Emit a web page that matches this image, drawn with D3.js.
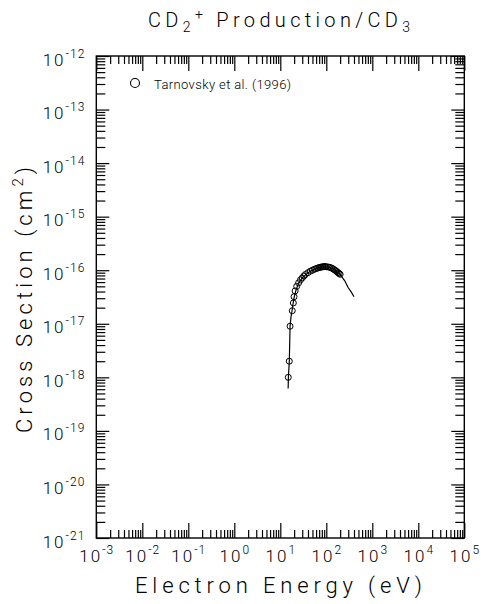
<!DOCTYPE html>
<html>
<head>
<meta charset="utf-8">
<script src="https://cdn.jsdelivr.net/npm/d3@7"></script>
<style>
  body { margin: 0; background: #fff; }
  svg text { font-family: Roboto, 'DejaVu Sans', sans-serif; font-weight: 300; fill: #000; }
</style>
</head>
<body>
<div id="plot"></div>
<script>
// Plot constants
let margin = {t: 56, r: 21.7, b: 66, l: 96.3}
let width = 486
let height = 604
let plotW = width - margin.l - margin.r
let plotH = height - margin.t - margin.b

// Tarnovsky et al. (1996) measured points: energy (eV), cross section (cm^2)
let dataEnergy = [14.9, 15.7, 16.3, 18.2, 19.2, 19.9, 21, 22.7, 25, 27.5, 30, 32.5, 35, 40, 45, 50, 55, 60,
  65, 70, 75, 80, 85, 90, 95, 100, 110, 120, 130, 140, 150, 160, 170, 180, 190, 200]
let dataSigma = [1.0e-18, 2.0e-18, 9.0e-18, 1.75e-17, 2.45e-17, 3.2e-17, 4.1e-17, 5.0e-17, 5.8e-17, 6.6e-17,
  7.2e-17, 7.8e-17, 8.3e-17, 9.0e-17, 9.6e-17, 1.0e-16, 1.04e-16, 1.07e-16, 1.10e-16, 1.12e-16, 1.14e-16,
  1.15e-16, 1.16e-16, 1.17e-16, 1.17e-16, 1.16e-16, 1.15e-16, 1.13e-16, 1.10e-16, 1.06e-16, 1.02e-16,
  9.8e-17, 9.4e-17, 9.0e-17, 8.7e-17, 8.4e-17]

// Fitted curve
let fitEnergy = [14.8, 15.0, 15.7, 16.3, 17, 18, 19, 20, 22, 25, 30, 40, 50, 60, 70, 85, 100, 120, 150,
  200, 250, 300, 350, 400]
let fitSigma = [6.2e-19, 1.0e-18, 2.0e-18, 9.0e-18, 1.3e-17, 1.75e-17, 2.4e-17, 3.1e-17, 4.3e-17, 5.7e-17,
  7.2e-17, 9.0e-17, 1.0e-16, 1.07e-16, 1.12e-16, 1.16e-16, 1.16e-16, 1.12e-16, 1.03e-16, 8.3e-17,
  6.4e-17, 4.7e-17, 3.9e-17, 3.2e-17]

// Axis decades (exponents)
let xExponents = [-3, -2, -1, 0, 1, 2, 3, 4, 5]
let yExponents = [-21, -20, -19, -18, -17, -16, -15, -14, -13, -12]

let legendLabel = 'Tarnovsky et al. (1996)'

let svg = d3.select('#plot')
  .append('svg')
  .attr('width', width)
  .attr('height', height)

let x = d3.scaleLog()
  .domain([1e-3, 1e5])
  .range([margin.l, margin.l + plotW])

let y = d3.scaleLog()
  .domain([1e-21, 1e-12])
  .range([margin.t + plotH, margin.t])

let xMajor = xExponents.map(e => Math.pow(10, e))
let yMajor = yExponents.map(e => Math.pow(10, e))
let xMinor = x.ticks().filter(v => !xMajor.some(m => Math.abs(m / v - 1) < 1e-6))
let yMinor = y.ticks().filter(v => !yMajor.some(m => Math.abs(m / v - 1) < 1e-6))

function expOf(v) { return Math.round(Math.log10(v)) }

// Stretch a text to a target width with letter spacing
function spreadTo(sel, target) {
  let n = sel.text().length
  let len = sel.node().getComputedTextLength()
  sel.style('letter-spacing', ((target - len) / (n - 1)) + 'px')
}

function drawAxis(axisFn, scale, tx, ty, minorLen, majorLen) {
  let gMinor = svg.append('g')
    .attr('transform', `translate(${tx},${ty})`)
    .call(axisFn(scale).tickValues(scale === x ? xMinor : yMinor).tickSize(-minorLen).tickFormat(''))
  let gMajor = svg.append('g')
    .attr('transform', `translate(${tx},${ty})`)
    .call(axisFn(scale).tickValues(scale === x ? xMajor : yMajor).tickSize(-majorLen).tickFormat(''))
  ;[gMinor, gMajor].forEach(g => {
    g.select('.domain').remove()
    g.selectAll('.tick line').attr('stroke', '#000').attr('stroke-width', 1.2)
  })
  return gMajor
}

let gBottom = drawAxis(d3.axisBottom, x, 0, margin.t + plotH, 8, 15)
drawAxis(d3.axisTop, x, 0, margin.t, 8, 15)
let gLeft = drawAxis(d3.axisLeft, y, margin.l, 0, 9, 13)
drawAxis(d3.axisRight, y, margin.l + plotW, 0, 9, 13)

// Tick labels as 10^n
gBottom.selectAll('.tick').each(function(d) {
  let t = d3.select(this).append('text')
    .attr('y', 24)
    .attr('text-anchor', 'middle')
    .style('font-size', '17px')
    .style('letter-spacing', '2px')
  t.append('tspan').text('10')
  t.append('tspan').attr('dy', -8).style('font-size', '12px').style('letter-spacing', '1px').text(expOf(d))
})

gLeft.selectAll('.tick').each(function(d) {
  let t = d3.select(this).append('text')
    .attr('x', -11)
    .attr('y', 9)
    .attr('text-anchor', 'end')
    .style('font-size', '17px')
    .style('letter-spacing', '2px')
  t.append('tspan').text('10')
  t.append('tspan').attr('dy', -8).style('font-size', '12px').style('letter-spacing', '1px').text(expOf(d))
})

// Frame
svg.append('rect')
  .attr('x', margin.l)
  .attr('y', margin.t)
  .attr('width', plotW)
  .attr('height', plotH)
  .attr('fill', 'none')
  .attr('stroke', '#000')
  .attr('stroke-width', 1.4)

// Fit curve
let line = d3.line()
  .x((d, i) => x(fitEnergy[i]))
  .y((d, i) => y(fitSigma[i]))

svg.append('path')
  .datum(fitEnergy)
  .attr('d', line)
  .attr('fill', 'none')
  .attr('stroke', '#000')
  .attr('stroke-width', 1.2)

// Data points
svg.append('g')
  .selectAll('circle')
  .data(dataEnergy)
  .enter().append('circle')
  .attr('cx', d => x(d))
  .attr('cy', (d, i) => y(dataSigma[i]))
  .attr('r', 3)
  .attr('fill', 'none')
  .attr('stroke', '#000')
  .attr('stroke-width', 1)

// Legend
svg.append('circle')
  .attr('cx', 135)
  .attr('cy', 83)
  .attr('r', 4.5)
  .attr('fill', 'none')
  .attr('stroke', '#000')
  .attr('stroke-width', 1.1)

let legendText = svg.append('text')
  .attr('x', 154)
  .attr('y', 89)
  .style('font-size', '13px')
  .text(legendLabel)
spreadTo(legendText, 137)

// Title
let title = svg.append('text')
  .attr('x', 148)
  .attr('y', 27)
  .style('font-size', '20px')
title.append('tspan').text('CD')
title.append('tspan').attr('dy', 5).style('font-size', '14px').text('2')
title.append('tspan').attr('dy', -13).style('font-size', '14px').text('+')
title.append('tspan').attr('dy', 8).text(' Production/CD')
title.append('tspan').attr('dy', 5).style('font-size', '14px').text('3')
spreadTo(title, 262)

// Axis titles
let xTitle = svg.append('text')
  .attr('x', 135)
  .attr('y', 593)
  .style('font-size', '22px')
  .text('Electron Energy (eV)')
spreadTo(xTitle, 287)

let yTitle = svg.append('text')
  .attr('transform', 'translate(32,433) rotate(-90)')
  .style('font-size', '22px')
yTitle.append('tspan').text('Cross Section (cm')
yTitle.append('tspan').attr('dy', -9).style('font-size', '15px').text('2')
yTitle.append('tspan').attr('dy', 9).text(')')
spreadTo(yTitle, 266)
</script>
</body>
</html>
